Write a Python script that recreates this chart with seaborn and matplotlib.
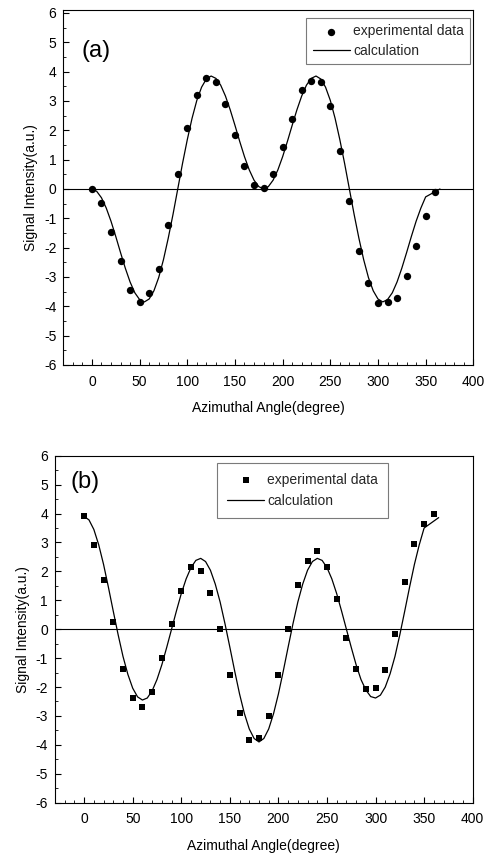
import numpy as np
import pandas as pd
import matplotlib
matplotlib.use("Agg")
import matplotlib.pyplot as plt
from matplotlib.ticker import MultipleLocator
import seaborn as sns

# measured points, every 10 degrees
angle_pts = [0, 10, 20, 30, 40, 50, 60, 70, 80, 90, 100, 110, 120, 130, 140, 150, 160, 170, 180,
             190, 200, 210, 220, 230, 240, 250, 260, 270, 280, 290, 300, 310, 320, 330, 340, 350, 360]
exp_a = [0.0, -0.48, -1.45, -2.45, -3.45, -3.85, -3.53, -2.72, -1.24, 0.51, 2.07, 3.22, 3.77, 3.66,
         2.89, 1.84, 0.77, 0.15, 0.03, 0.51, 1.42, 2.4, 3.39, 3.69, 3.63, 2.83, 1.3, -0.42, -2.12,
         -3.2, -3.9, -3.84, -3.7, -2.98, -1.94, -0.93, -0.11]
exp_b = [3.9, 2.9, 1.71, 0.26, -1.38, -2.39, -2.7, -2.16, -1.0, 0.18, 1.33, 2.15, 2.03, 1.24, 0.0,
         -1.57, -2.9, -3.84, -3.75, -2.99, -1.59, 0.0, 1.52, 2.37, 2.71, 2.16, 1.03, -0.31, -1.39,
         -2.07, -2.05, -1.41, -0.15, 1.62, 2.93, 3.64, 3.99]

# calculated curves, read every 5 degrees
angle_calc = [0, 5, 10, 15, 20, 25, 30, 35, 40, 45, 50, 55, 60, 65, 70, 75, 80, 85, 90,
              95, 100, 105, 110, 115, 120, 125, 130, 135, 140, 145, 150, 155, 160, 165, 170, 175, 180,
              185, 190, 195, 200, 205, 210, 215, 220, 225, 230, 235, 240, 245, 250, 255, 260, 265, 270,
              275, 280, 285, 290, 295, 300, 305, 310, 315, 320, 325, 330, 335, 340, 345, 350, 355, 360, 365]
calc_a = [0.0, -0.08, -0.30, -0.65, -1.10, -1.62, -2.17, -2.70, -3.17, -3.54, -3.77, -3.85, -3.75,
          -3.47, -3.02, -2.41, -1.68, -0.87, 0.0,
          0.87, 1.68, 2.41, 3.02, 3.47, 3.75, 3.85, 3.77, 3.54, 3.17, 2.70, 2.17, 1.62, 1.10, 0.65,
          0.30, 0.08, 0.0,
          0.08, 0.30, 0.65, 1.10, 1.62, 2.17, 2.70, 3.17, 3.54, 3.77, 3.85, 3.75, 3.47, 3.02, 2.41,
          1.68, 0.87, 0.0,
          -0.87, -1.68, -2.41, -3.02, -3.47, -3.75, -3.85, -3.77, -3.54, -3.17, -2.70, -2.17, -1.62,
          -1.10, -0.65, -0.27, -0.18, -0.09, 0.0]
calc_b = [3.90, 3.78, 3.45, 2.92, 2.24, 1.45, 0.62, -0.19, -0.94, -1.56, -2.04, -2.34, -2.45,
          -2.38, -2.13, -1.74, -1.23, -0.63, 0.0,
          0.63, 1.23, 1.74, 2.13, 2.38, 2.45, 2.34, 2.04, 1.56, 0.94, 0.19, -0.62, -1.45, -2.24,
          -2.92, -3.45, -3.78, -3.90,
          -3.78, -3.45, -2.92, -2.24, -1.45, -0.62, 0.19, 0.94, 1.56, 2.04, 2.34, 2.45, 2.38, 2.13,
          1.74, 1.23, 0.63, 0.0,
          -0.63, -1.23, -1.74, -2.10, -2.33, -2.38, -2.28, -2.00, -1.54, -0.94, -0.19, 0.62, 1.45,
          2.24, 2.92, 3.50, 3.62, 3.74, 3.86]

sns.set_theme(style="ticks")
plt.rcParams["font.family"] = ["Liberation Sans", "DejaVu Sans"]
plt.rcParams["axes.unicode_minus"] = False

fig = plt.figure(figsize=(4.91, 8.56), dpi=100)
ax_a = fig.add_axes([0.129, 0.5736, 0.835, 0.4147])
ax_b = fig.add_axes([0.112, 0.0623, 0.8507, 0.4053])


def draw_panel(ax, exp, calc, marker, msize, tag, tag_xy, ytop, leg_anchor, leg_loc, leg_pad, leg_space):
    pts = pd.DataFrame({"angle": angle_pts, "signal": exp})
    curve = pd.DataFrame({"angle": angle_calc, "signal": calc})
    ax.axhline(0, color="black", lw=0.8, zorder=1)
    sns.scatterplot(data=pts, x="angle", y="signal", ax=ax, marker=marker, s=msize,
                    color="black", edgecolor="black", linewidth=0, label="experimental data", zorder=3)
    sns.lineplot(data=curve, x="angle", y="signal", ax=ax, color="black", lw=0.9,
                 label="calculation", zorder=2, sort=False)
    ax.set_xlim(-30, 400)
    ax.set_ylim(-6, ytop)
    ax.xaxis.set_major_locator(MultipleLocator(50))
    ax.xaxis.set_minor_locator(MultipleLocator(10))
    ax.yaxis.set_major_locator(MultipleLocator(1))
    ax.yaxis.set_minor_locator(MultipleLocator(0.5))
    ax.tick_params(which="both", direction="in", colors="black", top=False, right=False)
    ax.tick_params(which="major", length=4, width=0.8, labelsize=10)
    ax.tick_params(which="minor", length=2, width=0.6)
    ax.tick_params(axis="x", pad=7)
    ax.tick_params(axis="y", pad=5)
    for sp in ax.spines.values():
        sp.set_visible(True)
        sp.set_color("black")
        sp.set_linewidth(0.8)
    ax.set_xlabel("Azimuthal Angle(degree)", fontsize=10, labelpad=9, color="black")
    ax.set_ylabel("Signal Intensity(a.u.)", fontsize=10, labelpad=4, color="black")
    ax.text(tag_xy[0], tag_xy[1], tag, fontsize=17, ha="left", va="center", color="black")
    leg = ax.legend(loc=leg_loc, bbox_to_anchor=leg_anchor, frameon=True, fancybox=False,
                    fontsize=10, scatterpoints=1, handlelength=2.7, handletextpad=0.2,
                    borderpad=leg_pad, labelspacing=leg_space, borderaxespad=0)
    leg.get_frame().set_edgecolor("0.35")
    leg.get_frame().set_linewidth(0.8)
    leg.get_frame().set_facecolor("white")


draw_panel(ax_a, exp_a, calc_a, "o", 28, "(a)", (-11, 4.72), 6.1,
           (0.992, 0.977), "upper right", 0.45, 0.4)
draw_panel(ax_b, exp_b, calc_b, "s", 24, "(b)", (-14, 5.09), 6.0,
           (0.388, 0.978), "upper left", 0.7, 0.5)

fig.savefig("out.png", dpi=100)
